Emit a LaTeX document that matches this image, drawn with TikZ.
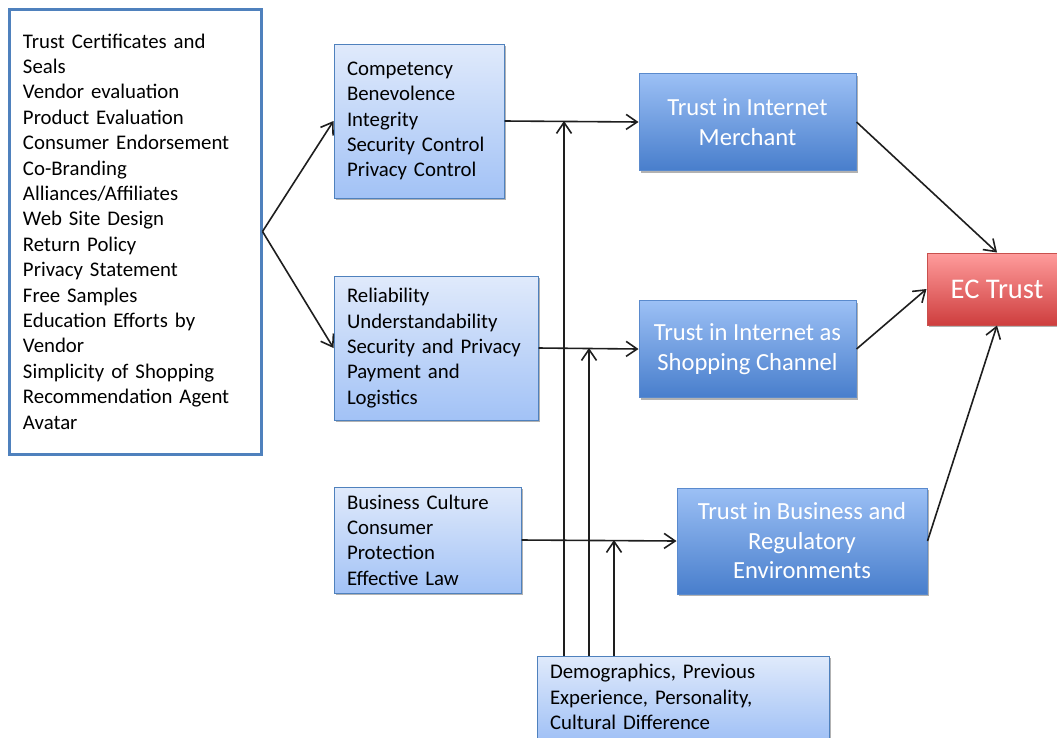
\documentclass[tikz,border=0pt]{standalone}
\usepackage{fontspec}
\setmainfont{Carlito}
\usetikzlibrary{arrows.meta,shadows}
\definecolor{lbtop}{RGB}{224,234,251}
\definecolor{lbbot}{RGB}{162,194,246}
\definecolor{lbdraw}{RGB}{79,129,189}
\definecolor{dbtop}{RGB}{156,192,245}
\definecolor{dbbot}{RGB}{72,126,204}
\definecolor{dbdraw}{RGB}{90,138,205}
\definecolor{rtop}{RGB}{255,156,156}
\definecolor{rbot}{RGB}{206,62,62}
\definecolor{rdraw}{RGB}{200,80,77}
\definecolor{arrcol}{RGB}{30,30,30}
\tikzset{
  smalltext/.style={font=\fontsize{20.8pt}{25.4pt}\selectfont},
  bigtext/.style={font=\fontsize{24.6pt}{29.5pt}\selectfont},
  listbox/.style={draw=lbdraw, line width=3pt, fill=white, smalltext, align=left,
    inner xsep=14pt, inner ysep=0pt, anchor=center},
  lightbox/.style={draw=lbdraw, line width=1pt, top color=lbtop, bottom color=lbbot,
    smalltext, align=left, inner xsep=13pt, inner ysep=0pt, anchor=center,
    drop shadow={shadow xshift=2pt, shadow yshift=-2pt, opacity=0.3, fill=black}},
  darkbox/.style={draw=dbdraw, line width=1pt, top color=dbtop, bottom color=dbbot,
    bigtext, text=white, align=center, inner sep=0pt, anchor=center,
    drop shadow={shadow xshift=2pt, shadow yshift=-2pt, opacity=0.3, fill=black}},
  redbox/.style={draw=rdraw, line width=1pt, top color=rtop, bottom color=rbot,
    font=\fontsize{28.5pt}{32pt}\selectfont, text=white, align=center, inner sep=0pt, anchor=center,
    drop shadow={shadow xshift=2pt, shadow yshift=-2pt, opacity=0.3, fill=black}},
  arr/.style={draw=arrcol, line width=1.6pt, -{Straight Barb[length=11pt,width=15pt]}},
}
\begin{document}
\begin{tikzpicture}[x=1pt,y=-1pt]
\clip (0,0) rectangle (1057,737);
\fill[white] (0,0) rectangle (1057,737);

\node[listbox, minimum width=252pt, minimum height=445pt, text width=224pt] (L) at (135,231.5)
  {Trust Certificates and\\Seals\\Vendor evaluation\\Product Evaluation\\Consumer Endorsement\\Co-Branding\\Alliances/Affiliates\\Web Site Design\\Return Policy\\Privacy Statement\\Free Samples\\Education Efforts by\\Vendor\\Simplicity of Shopping\\Recommendation Agent\\Avatar};

\node[lightbox, minimum width=170pt, minimum height=154pt, text width=144pt] (A) at (419,121)
  {Competency\\Benevolence\\Integrity\\Security Control\\Privacy Control};
\node[lightbox, minimum width=204pt, minimum height=144pt, text width=178pt] (B) at (436,348)
  {Reliability\\Understandability\\Security and Privacy\\Payment and\\Logistics};
\node[lightbox, minimum width=187pt, minimum height=106pt, text width=161pt] (C) at (427.5,540)
  {Business Culture\\Consumer\\Protection\\Effective Law};
\node[lightbox, minimum width=292pt, minimum height=82pt, text width=266pt] (D) at (683,697)
  {Demographics, Previous\\Experience, Personality,\\Cultural Difference};

\node[darkbox, minimum width=217pt, minimum height=97pt] (M) at (747.5,122)
  {Trust in Internet\\Merchant};
\node[darkbox, minimum width=217pt, minimum height=97pt] (S) at (747.5,349)
  {Trust in Internet as\\Shopping Channel};
\node[darkbox, minimum width=250pt, minimum height=106pt] (R) at (802,541)
  {Trust in Business and\\Regulatory\\Environments};
\node[redbox, minimum width=140pt, minimum height=72pt] (E) at (997,289)
  {EC Trust};

\draw[arr] (L.east) -- (A.west);
\draw[arr] (L.east) -- (B.west);
\draw[arr] (A.east) -- (M.west);
\draw[arr] (B.east) -- (S.west);
\draw[arr] (C.east) -- (R.west);
\draw[arr] (M.east) -- (E.north);
\draw[arr] (S.east) -- (E.west);
\draw[arr] (R.east) -- (E.south);

\coordinate (j1) at (564,121);
\coordinate (j2) at (589,348);
\coordinate (j3) at (614,540);
\draw[arr] (D.north -| j1) -- (j1);
\draw[arr] (D.north -| j2) -- (j2);
\draw[arr] (D.north -| j3) -- (j3);
\end{tikzpicture}
\end{document}
